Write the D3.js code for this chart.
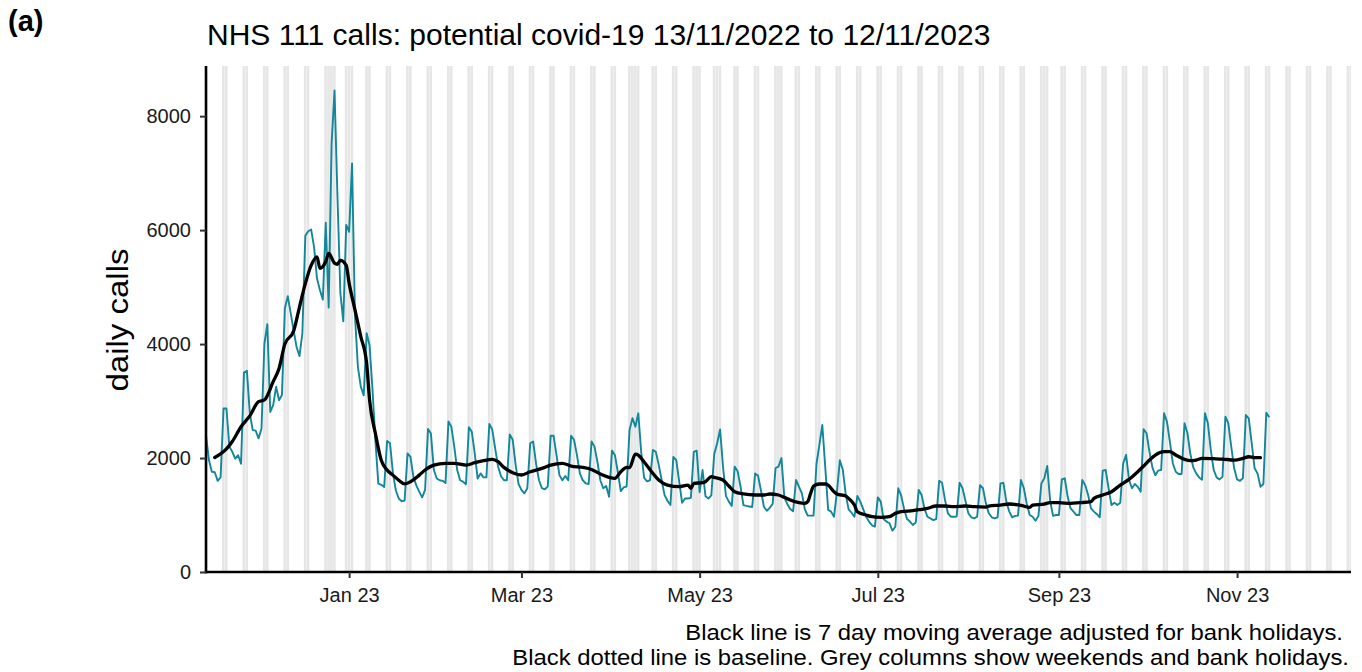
<!DOCTYPE html>
<html><head><meta charset="utf-8">
<script src="https://cdn.jsdelivr.net/npm/d3@7"></script>
<style>
body{margin:0;background:#fff}
svg{display:block}
text{font-family:"Liberation Sans",Arial,Helvetica,sans-serif}
</style>
</head><body>
<svg id="chart" width="1362" height="672"></svg>
<script>
// ---------------- data ----------------
const startDate = "2022-11-13";
const axisEndDate = "2023-12-10";
const dailyCalls = [
2400,1965,1760,1750,1600,1660,
2870,2870,2200,2110,1990,2050,1900,
3500,3530,2780,2490,2480,2345,2520,
4010,4350,2810,2930,3250,3015,3105,
4630,4840,4540,4240,3950,3790,4190,
5900,5980,6010,5700,5150,4950,4780,
6130,4640,7520,8450,6600,4900,4400,
6090,5970,7170,4500,3600,3250,3100,
4190,3980,3200,2300,1550,1530,1490,
2300,2260,1730,1430,1290,1240,1255,
2080,2020,1670,1520,1410,1310,1440,
2510,2430,1790,1640,1610,1600,1560,
2640,2550,2200,1790,1610,1585,1540,
2540,2460,2080,1640,1730,1660,1660,
2600,2500,2170,1850,1680,1610,1610,
2415,2320,1880,1545,1440,1380,1470,
2260,2290,1900,1610,1470,1450,1500,
2390,2390,2050,1700,1610,1685,1610,
2390,2320,2050,1730,1610,1555,1545,
2290,2200,1935,1610,1470,1510,1320,
2130,2050,1750,1420,1485,1500,2490,
2700,2550,2785,2100,1650,1590,1610,
2140,2110,1880,1610,1350,1250,1175,
2020,1965,1585,1215,1290,1290,1300,
2110,2130,1400,1790,1330,1290,1345,
2070,2260,2500,1850,1335,1235,1160,
1850,1770,1500,1175,1160,1150,1140,
1730,1690,1430,1145,1075,1125,1195,
1825,1850,2000,1310,1195,1105,1065,
1615,1500,1380,1105,990,990,990,
1900,2230,2580,1840,1090,1060,970,
1400,1960,1800,1370,1100,1040,970,
1335,1235,1105,970,885,820,795,
1310,1235,925,885,855,725,795,
1470,1340,1105,930,885,825,870,
1440,1350,1105,970,940,910,930,
1600,1565,1265,1030,970,970,975,
1565,1470,1250,1030,960,940,970,
1525,1470,1205,1030,960,940,960,
1555,1565,1235,1060,960,985,990,
1615,1470,1195,1000,970,900,985,
1555,1645,1860,1250,985,1000,1000,
1625,1645,1320,1115,1060,1000,1000,
1615,1525,1350,1115,1060,1015,960,
1780,1790,1470,1175,1215,1175,1215,
1905,2055,1615,1470,1545,1495,1410,
2505,2435,2110,1835,1700,1780,1790,
2785,2635,2285,1905,1760,1720,1720,
2610,2435,2070,1835,1730,1660,1620,
2785,2610,2140,1790,1660,1625,1670,
2725,2610,2200,1820,1625,1600,1645,
2755,2695,2260,1820,1730,1495,1545,
2795,2715
];
// 7 day moving average (day number counted from startDate, value)
const maDayIndex = [3,7,9,12,15,18,20,23,25,27,30,32,34,36,38,39,41,42,44,45,46,48,49,51,53,55,56,58,60,62,64,66,68,70,73,75,78,82,85,89,92,95,98,100,102,105,108,111,115,118,122,125,129,132,135,138,140,142,144,145,147,148,150,153,155,158,162,165,166,167,170,171,173,174,177,179,181,184,188,191,193,196,198,200,203,205,206,207,208,210,212,213,215,216,219,220,222,223,226,228,231,234,236,238,242,245,247,250,253,256,260,263,267,268,272,275,279,282,283,287,289,292,296,299,303,304,307,310,313,316,319,321,323,325,328,330,332,335,337,339,341,345,348,352,355,357,359,361];
const maValues = [2010,2160,2290,2550,2740,2990,3020,3340,3570,4000,4230,4650,5060,5380,5530,5330,5450,5590,5420,5400,5470,5380,5070,4600,4130,3660,3020,2430,1960,1790,1700,1610,1545,1585,1700,1790,1877,1906,1906,1877,1918,1954,1977,1936,1836,1743,1702,1760,1819,1877,1906,1860,1836,1800,1719,1661,1643,1760,1836,1830,2070,2050,1930,1731,1614,1526,1497,1526,1468,1556,1567,1585,1673,1661,1614,1509,1409,1369,1351,1351,1369,1351,1310,1263,1216,1205,1234,1380,1509,1544,1544,1526,1409,1369,1334,1292,1175,1058,1000,971,959,971,1029,1058,1076,1100,1117,1158,1158,1146,1158,1146,1140,1158,1175,1193,1170,1134,1175,1193,1216,1216,1205,1216,1234,1292,1351,1409,1526,1626,1760,1860,1965,2053,2111,2111,2053,1977,1954,1965,1994,1988,1982,1965,1994,2023,2006,2006];
const bankHolidays = ["2022-12-26","2022-12-27","2023-01-02","2023-04-07","2023-04-10","2023-05-01","2023-05-08","2023-05-29","2023-08-28"];
const yTicks = [0,2000,4000,6000,8000];
const xTickDates = ["2023-01-01","2023-03-01","2023-05-01","2023-07-01","2023-09-01","2023-11-01"];
const xTickLabels = ["Jan 23","Mar 23","May 23","Jul 23","Sep 23","Nov 23"];
const yMax = 8880;
const panelLabel = "(a)";
const titleText = "NHS 111 calls: potential covid-19 13/11/2022 to 12/11/2023";
const yTitle = "daily calls";
const captionLines = ["Black line is 7 day moving average adjusted for bank holidays.",
                      "Black dotted line is baseline. Grey columns show weekends and bank holidays."];

// ---------------- layout ----------------
const plot = {left:206, right:1351, top:66, bottom:572};
const colBlue = "#13879a";

const parse = d3.utcParse("%Y-%m-%d");
const fmt = d3.utcFormat("%Y-%m-%d");
const t0 = parse(startDate);
const x = d3.scaleUtc().domain([t0, parse(axisEndDate)]).range([plot.left, plot.right]);
const y = d3.scaleLinear().domain([0, yMax]).range([plot.bottom, plot.top]);

const svg = d3.select("#chart");
svg.append("defs").append("clipPath").attr("id","clip")
  .append("rect").attr("x",plot.left).attr("y",plot.top)
  .attr("width",plot.right-plot.left).attr("height",plot.bottom-plot.top);

// grey columns: weekends + bank holidays
const hol = new Set(bankHolidays);
const allDays = d3.utcDay.range(d3.utcDay.offset(t0,-1), d3.utcDay.offset(parse(axisEndDate),2));
const greyDays = allDays.filter(d => d.getUTCDay()===0 || d.getUTCDay()===6 || hol.has(fmt(d)));
svg.append("g").attr("clip-path","url(#clip)")
  .selectAll("rect").data(greyDays).join("rect")
  .attr("x", d => x(d3.utcHour.offset(d,-12)))
  .attr("width", d => x(d3.utcHour.offset(d,12)) - x(d3.utcHour.offset(d,-12)) - 0.3)
  .attr("y", plot.top).attr("height", plot.bottom-plot.top)
  .attr("fill", "#e6e6e6");

// daily series
const daily = dailyCalls.map((v,i) => ({date: d3.utcDay.offset(t0,i), v}));
const ma = maDayIndex.map((d,i) => ({date: d3.utcDay.offset(t0,d), v: maValues[i]}));

const g = svg.append("g").attr("clip-path","url(#clip)");
g.append("path").datum(daily)
  .attr("fill","none").attr("stroke",colBlue).attr("stroke-width",1.9)
  .attr("stroke-linejoin","round")
  .attr("d", d3.line().x(d=>x(d.date)).y(d=>y(d.v)));
g.append("path").datum(ma)
  .attr("fill","none").attr("stroke","#000").attr("stroke-width",3.3)
  .attr("stroke-linejoin","round").attr("stroke-linecap","round")
  .attr("d", d3.line().curve(d3.curveMonotoneX).x(d=>x(d.date)).y(d=>y(d.v)));

// axes
const xAxis = d3.axisBottom(x)
  .tickValues(xTickDates.map(parse))
  .tickFormat((d,i) => xTickLabels[i])
  .tickSize(6).tickSizeOuter(0).tickPadding(10);
const gx = svg.append("g").attr("transform",`translate(0,${plot.bottom})`).call(xAxis);
const yAxis = d3.axisLeft(y).tickValues(yTicks).tickFormat(d3.format("d"))
  .tickSize(6).tickSizeOuter(0).tickPadding(9);
const gy = svg.append("g").attr("transform",`translate(${plot.left},0)`).call(yAxis);

[gx, gy].forEach(a => {
  a.select(".domain").attr("stroke","#000").attr("stroke-width",2.6);
  a.selectAll(".tick line").attr("stroke","#333").attr("stroke-width",2);
  a.selectAll(".tick text").attr("fill","#1a1a1a").style("font-size","20px");
});
gy.select(".domain").attr("d", `M0,${plot.bottom+1.3}V${plot.top}`);
gx.select(".domain").attr("d", `M${plot.left-1.3},0H${plot.right}`);

// texts
svg.append("text").attr("x",8).attr("y",31)
  .style("font-size","29px").style("font-weight","bold").attr("fill","#000")
  .text(panelLabel);
svg.append("text").attr("x",207).attr("y",45)
  .style("font-size","30px").attr("fill","#000").text(titleText);
svg.append("text")
  .attr("transform","translate(128,320) rotate(-90) scale(1.1,1)")
  .attr("text-anchor","middle")
  .style("font-size","30px").attr("fill","#000").text(yTitle);
svg.append("text").attr("transform","translate(1343,640) scale(1.085,1)").attr("text-anchor","end")
  .style("font-size","22px").attr("fill","#000").text(captionLines[0]);
svg.append("text").attr("transform","translate(1349,665) scale(1.085,1)").attr("text-anchor","end")
  .style("font-size","22px").attr("fill","#000").text(captionLines[1]);
</script>
</body></html>
